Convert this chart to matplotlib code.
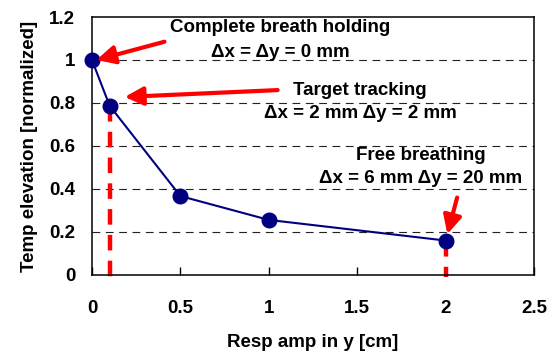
import matplotlib.pyplot as plt

plt.rcParams["font.family"] = ["Liberation Sans", "DejaVu Sans"]
plt.rcParams["font.weight"] = "bold"

RESP_AMP = [0.0, 0.1, 0.5, 1.0, 2.0]
TEMP_ELEV = [1.0, 0.787, 0.367, 0.256, 0.16]

X_TICKS = [0, 0.5, 1, 1.5, 2, 2.5]
Y_TICKS = [0, 0.2, 0.4, 0.6, 0.8, 1.0, 1.2]
X_TICK_LABELS = ["0", "0.5", "1", "1.5", "2", "2.5"]
Y_TICK_LABELS = ["0", "0.2", "0.4", "0.6", "0.8", "1", "1.2"]

# marked cases: index into RESP_AMP/TEMP_ELEV for the red drop lines
DROP_IDX = [1, 4]

NAVY = "#000080"
RED = "#FF0000"
FS = 13.5

fig = plt.figure(figsize=(5.54, 3.58), dpi=100)
ax = fig.add_axes([0.166, 0.232, 0.798, 0.7205])

for y in Y_TICKS[1:-1]:
    ax.axhline(y, color="#222222", lw=0.8, dashes=(7, 5), zorder=1)

for i in DROP_IDX:
    ax.plot([RESP_AMP[i], RESP_AMP[i]], [TEMP_ELEV[i], -0.01], color=RED, lw=3.2,
            dashes=(3.5, 2.3), solid_capstyle="butt", dash_capstyle="butt",
            clip_on=False, zorder=2)

ax.plot(RESP_AMP, TEMP_ELEV, color=NAVY, lw=1.5, marker="o", ms=10.5,
        markerfacecolor=NAVY, markeredgecolor=NAVY, clip_on=False, zorder=4)

arrow = dict(arrowstyle="-|>,head_length=1.1,head_width=0.55", color=RED, lw=3,
             shrinkA=0, shrinkB=0)
ax.annotate("", xy=(0.025, 1.0), xytext=(0.41, 1.085), arrowprops=arrow, zorder=5)
ax.annotate("", xy=(0.185, 0.828), xytext=(1.05, 0.86), arrowprops=arrow, zorder=5)
ax.annotate("", xy=(2.01, 0.19), xytext=(2.065, 0.36), arrowprops=arrow, zorder=5)

txt = dict(ha="center", va="center", fontsize=FS, fontweight="bold", zorder=6)
ax.text(1.063, 1.153, "Complete breath holding", **txt)
ax.text(1.063, 1.037, "\u0394x = \u0394y = 0 mm", **txt)
ax.text(1.516, 0.86, "Target tracking", **txt)
ax.text(1.516, 0.753, "\u0394x = 2 mm \u0394y = 2 mm", **txt)
ax.text(1.857, 0.558, "Free breathing", **txt)
ax.text(1.857, 0.451, "\u0394x = 6 mm \u0394y = 20 mm", **txt)

ax.set_xlim(0, 2.5)
ax.set_ylim(0, 1.2)
ax.set_xticks(X_TICKS)
ax.set_xticklabels(X_TICK_LABELS, fontsize=FS, fontweight="bold")
ax.set_yticks(Y_TICKS)
ax.set_yticklabels(Y_TICK_LABELS, fontsize=FS, fontweight="bold")
ax.tick_params(axis="x", direction="in", length=6, width=1, pad=18)
ax.tick_params(axis="y", direction="in", length=0, pad=12)
for s in ax.spines.values():
    s.set_linewidth(1.1)

ax.set_xlabel("Resp amp in y [cm]", fontsize=FS, fontweight="bold", labelpad=12)
ax.set_ylabel("Temp elevation [normalized]", fontsize=FS, fontweight="bold", labelpad=8)

fig.savefig("out.png", dpi=100)
